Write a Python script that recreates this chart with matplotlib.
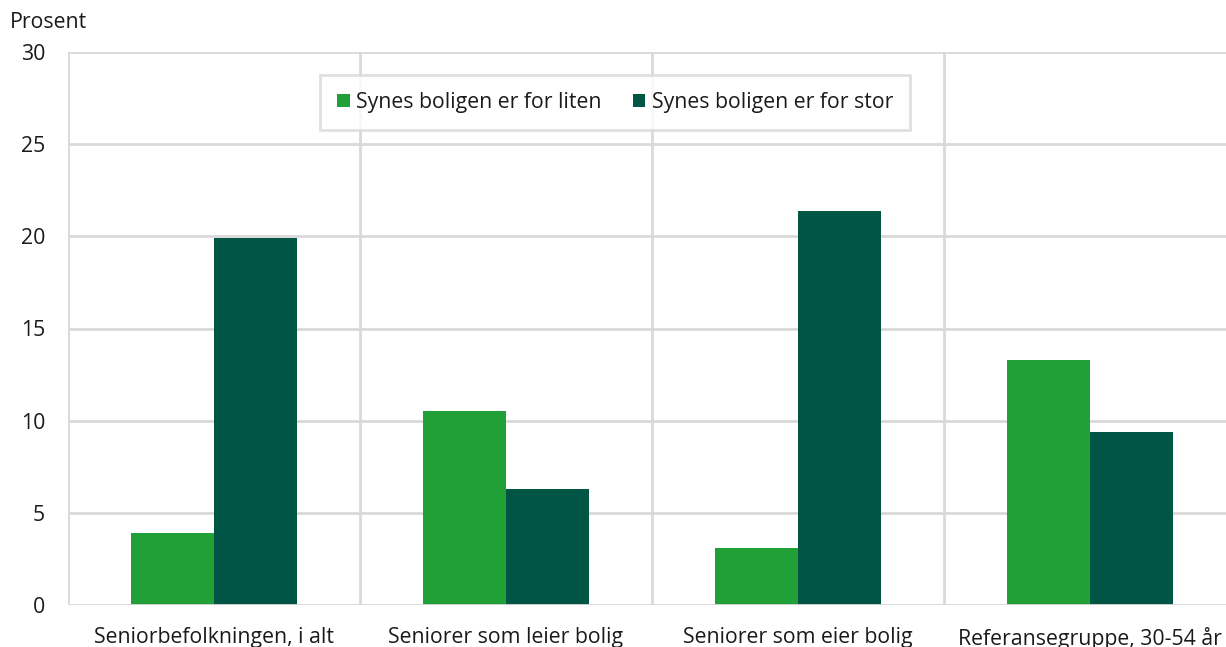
import numpy as np
import matplotlib.pyplot as plt

plt.rcParams['font.family'] = ['Open Sans', 'DejaVu Sans']

categories = ['Seniorbefolkningen, i alt', 'Seniorer som leier bolig',
              'Seniorer som eier bolig', 'Referansegruppe, 30-54 år']
liten = [3.9, 10.5, 3.1, 13.3]
stor = [19.9, 6.3, 21.4, 9.4]
labels = ['Synes boligen er for liten', 'Synes boligen er for stor']

fs = 15.3
txt_c = '#1a1a1a'

fig = plt.figure(figsize=(12.26, 6.47), dpi=100)
ax = fig.add_axes([68 / 1226, 1 - 605 / 647, (1226 - 68) / 1226, (605 - 52) / 647])

x = np.arange(len(categories))
w = 0.285
grid_c = '#d9d9d9'

# rutenett
for yv in range(5, 31, 5):
    ax.axhline(yv, color=grid_c, linewidth=2, zorder=0)
for xv in np.arange(-0.5, 3.0, 1.0):
    ax.axvline(xv, color=grid_c, linewidth=2, zorder=0)
ax.axhline(0, color=grid_c, linewidth=2, zorder=3)

ax.bar(x - w / 2, liten, width=w, color='#21a038', label=labels[0], zorder=2)
ax.bar(x + w / 2, stor, width=w, color='#005545', label=labels[1], zorder=2)

ax.set_xlim(-0.5, 3.5 - 10 / 292)
ax.set_ylim(0, 30)
for s in ax.spines.values():
    s.set_visible(False)

ax.set_yticks(range(0, 31, 5))
ax.set_yticklabels([str(v) for v in range(0, 31, 5)], fontsize=fs, color=txt_c)
ax.set_xticks(x)
ax.set_xticklabels(categories, fontsize=fs, color=txt_c)
ax.tick_params(axis='both', length=0)
ax.tick_params(axis='y', pad=16.5)
ax.tick_params(axis='x', pad=16)

fig.text(10 / 1226, 1 - 22 / 647, 'Prosent', fontsize=fs, color=txt_c, va='center', ha='left')

leg = ax.legend(loc='upper center', bbox_to_anchor=(0.4724, 0.958), ncol=2, fontsize=fs,
                frameon=True, fancybox=False, handlelength=0.6, handleheight=0.6,
                handletextpad=0.3, columnspacing=1.45, borderpad=0.8, borderaxespad=0)
leg.get_frame().set_edgecolor(grid_c)
leg.get_frame().set_linewidth(2)
for t in leg.get_texts():
    t.set_color(txt_c)

fig.savefig('out.png', dpi=100)
